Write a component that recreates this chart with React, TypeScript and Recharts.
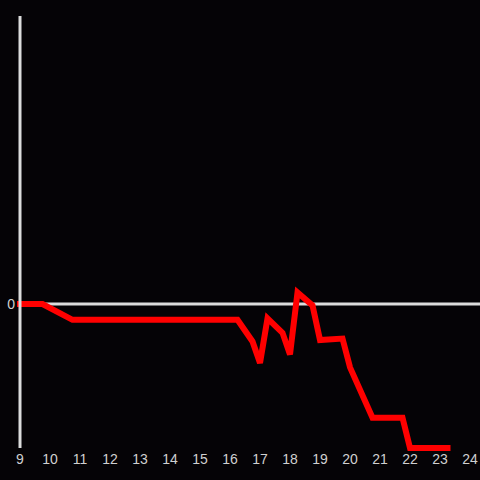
import { LineChart, Line, XAxis, YAxis, ReferenceLine } from 'recharts';

// hours of day (x) and value (y)
const hours = [9, 9.75, 10.75, 16.25, 16.75, 17, 17.25, 17.75, 18, 18.25, 18.75, 19, 19.75, 20, 20.75, 21.75, 22, 23.25];
const values = [0, 0, -11, -11, -26, -41, -10, -20, -35, 8, -1, -25, -24, -44, -79, -79, -100, -100];
const hourTicks = [9, 10, 11, 12, 13, 14, 15, 16, 17, 18, 19, 20, 21, 22, 23, 24];
const valueTicks = [0];

const data = hours.map((h, i) => ({ hour: h, value: values[i] }));

const axisColor = '#dcdcdc';
const textColor = '#d0d0d0';
const font = { fontSize: 14, fill: textColor, fontFamily: 'Liberation Sans, Arial, sans-serif' };

export default function App() {
  return (
    <div style={{ position: 'fixed', left: 0, top: 0, width: 480, height: 480, background: '#050306' }}>
      <LineChart width={480} height={480} data={data} margin={{ top: 16, right: 0, left: 0, bottom: 0 }}>
        <XAxis
          dataKey="hour"
          type="number"
          domain={[9, 24.333]}
          ticks={hourTicks}
          axisLine={false}
          tickLine={false}
          tickSize={0}
          tickMargin={6}
          height={32}
          tick={font}
          interval={0}
        />
        <YAxis
          type="number"
          domain={[-100, 200]}
          ticks={valueTicks}
          width={20}
          axisLine={{ stroke: axisColor, strokeWidth: 3 }}
          tickLine={false}
          tickSize={0}
          tickMargin={5}
          tick={font}
        />
        <ReferenceLine y={0} stroke={axisColor} strokeWidth={3} />
        <Line
          type="linear"
          dataKey="value"
          stroke="#ff0000"
          strokeWidth={6}
          strokeLinecap="square"
          strokeLinejoin="miter"
          dot={false}
          activeDot={false}
          isAnimationActive={false}
        />
      </LineChart>
    </div>
  );
}
